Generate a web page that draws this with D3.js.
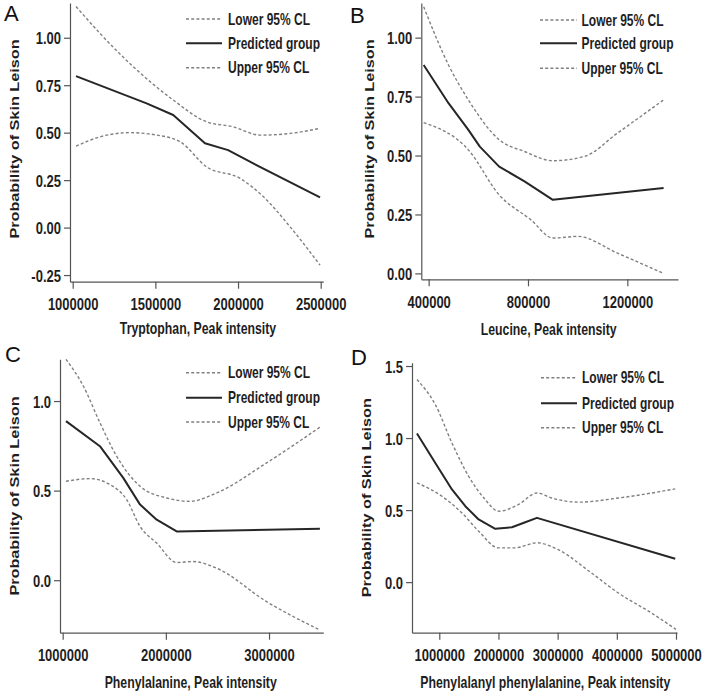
<!DOCTYPE html>
<html>
<head>
<meta charset="utf-8">
<script src="https://cdn.jsdelivr.net/npm/d3@7/dist/d3.min.js"></script>
<style>
  html, body { margin: 0; padding: 0; background: #ffffff; }
  svg { display: block; }
</style>
</head>
<body>
<div id="chart"></div>
<script>
// ---------- DATA ----------
const legendLabels = ["Lower 95% CL", "Predicted group", "Upper 95% CL"];
const yAxisTitle = "Probability of Skin Leison";

// Panel A – Tryptophan
const aXTicks = [1000000, 1500000, 2000000, 2500000];
const aYTicks = [-0.25, 0, 0.25, 0.5, 0.75, 1.0];
const aPredX = [1020000, 1447000, 1608000, 1800000, 1940000, 2072000, 2496000];
const aPredY = [0.798, 0.654, 0.593, 0.444, 0.408, 0.347, 0.159];
const aUpperX = [1020000, 1165000, 1367000, 1608000, 1810000, 1970000, 2133000, 2315000, 2496000];
const aUpperY = [1.165, 1.023, 0.847, 0.672, 0.557, 0.531, 0.487, 0.496, 0.523];
const aLowerX = [1020000, 1165000, 1347000, 1510000, 1650000, 1810000, 2013000, 2154000, 2315000, 2496000];
const aLowerY = [0.429, 0.478, 0.500, 0.487, 0.452, 0.320, 0.259, 0.162, 0.004, -0.198];

// Panel B – Leucine
const bXTicks = [400000, 800000, 1200000];
const bYTicks = [0, 0.25, 0.5, 0.75, 1.0];
const bPredX = [380000, 480000, 560000, 606000, 684000, 786000, 900000, 1346000];
const bPredY = [0.884, 0.722, 0.609, 0.538, 0.453, 0.390, 0.312, 0.362];
const bUpperX = [380000, 480000, 560000, 684000, 786000, 900000, 1027000, 1160000, 1346000];
const bUpperY = [1.131, 0.884, 0.736, 0.567, 0.517, 0.478, 0.496, 0.595, 0.736];
const bLowerX = [380000, 560000, 684000, 812000, 900000, 1000000, 1160000, 1346000];
const bLowerY = [0.640, 0.524, 0.333, 0.227, 0.150, 0.157, 0.086, 0.000];

// Panel C – Phenylalanine
const cXTicks = [1000000, 2000000, 3000000];
const cYTicks = [0, 0.5, 1.0];
const cPredX = [1032000, 1361000, 1587000, 1750000, 1911000, 2105000, 3493000];
const cPredY = [0.888, 0.748, 0.571, 0.422, 0.338, 0.272, 0.287];
const cUpperX = [1032000, 1200000, 1361000, 1523000, 1750000, 2008000, 2234000, 2492000, 2977000, 3493000];
const cUpperY = [1.233, 1.084, 0.879, 0.692, 0.524, 0.459, 0.440, 0.487, 0.655, 0.854];
const cLowerX = [1032000, 1265000, 1458000, 1620000, 1750000, 1911000, 2105000, 2266000, 2492000, 2977000, 3493000];
const cLowerY = [0.552, 0.567, 0.534, 0.450, 0.300, 0.207, 0.099, 0.104, 0.067, -0.120, -0.278];

// Panel D – Phenylalanyl phenylalanine
const dXTicks = [1000000, 2000000, 3000000, 4000000, 5000000];
const dYTicks = [0, 0.5, 1.0, 1.5];
const dPredX = [623000, 933000, 1214000, 1440000, 1665000, 1946000, 2228000, 2453000, 2650000, 4987000];
const dPredY = [1.031, 0.827, 0.643, 0.527, 0.435, 0.370, 0.381, 0.416, 0.446, 0.162];
const dUpperX = [623000, 933000, 1214000, 1496000, 1777000, 2000000, 2340000, 2650000, 2900000, 3350000, 4030000, 4987000];
const dUpperY = [1.406, 1.232, 0.966, 0.735, 0.573, 0.492, 0.539, 0.619, 0.584, 0.555, 0.584, 0.647];
const dLowerX = [623000, 1046000, 1383000, 1665000, 2000000, 2280000, 2650000, 3000000, 3570000, 4020000, 4580000, 5000000];
const dLowerY = [0.689, 0.596, 0.480, 0.354, 0.238, 0.238, 0.273, 0.227, 0.064, -0.074, -0.213, -0.328];

// ---------- LAYOUT ----------
const W = 704, H = 693;
const FONT = "'Liberation Sans', Arial, Helvetica, sans-serif";
const SY = 1.32; // vertical stretch of the original lettering
const TEXT_COLOR = "#1e1e1e";
const AXIS_COLOR = "#555555";

const panels = [
  { letter: "A", ox: 0, oy: 0, letterPos: [4, 21],
    xDomain: [983700, 2515700], xRange: [70, 323.3],
    yDomain: [-0.285, 1.183], yRange: [281.7, 3],
    xTicks: aXTicks, yTicks: aYTicks, yDec: 2,
    xTitle: "Tryptophan, Peak intensity", xTitlePos: [198, 328], yTitlePos: [15, 139],
    legend: { x0: 186, x1: 222, tx: 228, rows: [19, 43.3, 67.7] },
    pred: [aPredX, aPredY], upper: [aUpperX, aUpperY], lower: [aLowerX, aLowerY] },
  { letter: "B", ox: 352, oy: 0, letterPos: [-2, 23],
    xDomain: [370400, 1404000], xRange: [69.3, 326],
    yDomain: [-0.025, 1.147], yRange: [279.3, 3],
    xTicks: bXTicks, yTicks: bYTicks, yDec: 2,
    xTitle: "Leucine, Peak intensity", xTitlePos: [196.7, 329.3], yTitlePos: [18, 139],
    legend: { x0: 188, x1: 225, tx: 229.5, rows: [20, 43.3, 68.3] },
    pred: [bPredX, bPredY], upper: [bUpperX, bUpperY], lower: [bLowerX, bLowerY] },
  { letter: "C", ox: 0, oy: 346, letterPos: [5, 15.7],
    xDomain: [974000, 3526000], xRange: [60, 323.3],
    yDomain: [-0.293, 1.233], yRange: [286.7, 13.3],
    xTicks: cXTicks, yTicks: cYTicks, yDec: 1,
    xTitle: "Phenylalanine, Peak intensity", xTitlePos: [190.7, 336.7], yTitlePos: [15, 150],
    legend: { x0: 186, x1: 222, tx: 228, rows: [26.7, 51.7, 76] },
    pred: [cPredX, cPredY], upper: [cUpperX, cUpperY], lower: [cLowerX, cLowerY] },
  { letter: "D", ox: 352, oy: 346, letterPos: [-1, 19],
    xDomain: [539000, 5017000], xRange: [60, 325],
    yDomain: [-0.351, 1.523], yRange: [286.7, 16.7],
    xTicks: dXTicks, yTicks: dYTicks, yDec: 1,
    xTitle: "Phenylalanyl phenylalanine, Peak intensity", xTitlePos: [193.3, 336.7], yTitlePos: [15, 151.7],
    legend: { x0: 189, x1: 225, tx: 230, rows: [31.7, 57.3, 81.7] },
    pred: [dPredX, dPredY], upper: [dUpperX, dUpperY], lower: [dLowerX, dLowerY] }
];

const svg = d3.select("#chart").append("svg")
  .attr("width", W).attr("height", H)
  .attr("viewBox", `0 0 ${W} ${H}`);
svg.append("rect").attr("width", W).attr("height", H).attr("fill", "#ffffff");

function stretchedText(g, x, y, str, anchor, size, rotate) {
  const t = g.append("text")
    .attr("transform", rotate
      ? `translate(${x},${y}) rotate(-90) scale(${SY},1)`
      : `translate(${x},${y}) scale(1,${SY})`)
    .attr("text-anchor", anchor)
    .attr("dominant-baseline", "central")
    .attr("font-family", FONT)
    .attr("font-weight", "bold")
    .attr("font-size", size)
    .attr("fill", TEXT_COLOR)
    .text(str);
  return t;
}

const dashStyle = { stroke: "#808080", width: 1.4, dash: "3,2.2" };
const solidStyle = { stroke: "#262626", width: 2 };

panels.forEach(p => {
  const g = svg.append("g").attr("transform", `translate(${p.ox},${p.oy})`);
  const x = d3.scaleLinear().domain(p.xDomain).range(p.xRange);
  const y = d3.scaleLinear().domain(p.yDomain).range(p.yRange);
  const xAxisY = p.yRange[0];
  const yAxisX = p.xRange[0];

  // panel letter
  g.append("text")
    .attr("x", p.letterPos[0]).attr("y", p.letterPos[1])
    .attr("font-family", FONT).attr("font-size", 22)
    .attr("fill", "#111").text(p.letter);

  // Y axis
  const yAxis = g.append("g").attr("transform", `translate(${yAxisX},0)`)
    .call(d3.axisLeft(y).tickValues(p.yTicks).tickSize(6).tickSizeOuter(0)
      .tickFormat(d => d.toFixed(p.yDec)));
  yAxis.select(".domain").attr("stroke", AXIS_COLOR).attr("stroke-width", 1.2);
  yAxis.selectAll(".tick line").attr("stroke", AXIS_COLOR).attr("stroke-width", 1.2);
  yAxis.selectAll(".tick text").remove();
  yAxis.selectAll(".tick").each(function(d) {
    stretchedText(d3.select(this), -9, 0, d.toFixed(p.yDec), "end", 13);
  });

  // X axis
  const xAxis = g.append("g").attr("transform", `translate(0,${xAxisY})`)
    .call(d3.axisBottom(x).tickValues(p.xTicks).tickSize(7).tickSizeOuter(0)
      .tickFormat(d3.format("d")));
  xAxis.select(".domain").attr("stroke", AXIS_COLOR).attr("stroke-width", 1.2);
  xAxis.selectAll(".tick line").attr("stroke", AXIS_COLOR).attr("stroke-width", 1.2);
  xAxis.selectAll(".tick text").remove();
  xAxis.selectAll(".tick").each(function(d) {
    stretchedText(d3.select(this), 0, 22.5, d3.format("d")(d), "middle", 13);
  });

  // axis titles
  stretchedText(g, p.xTitlePos[0], p.xTitlePos[1], p.xTitle, "middle", 12.3);
  stretchedText(g, p.yTitlePos[0], p.yTitlePos[1], yAxisTitle, "middle", 12.3, true);

  // curves
  const mk = (xs, ys) => xs.map((v, i) => [v, ys[i]]);
  const smooth = d3.line().x(d => x(d[0])).y(d => y(d[1])).curve(d3.curveMonotoneX);
  const straight = d3.line().x(d => x(d[0])).y(d => y(d[1])).curve(d3.curveLinear);

  [p.upper, p.lower].forEach(s => {
    g.append("path").datum(mk(s[0], s[1]))
      .attr("d", smooth).attr("fill", "none")
      .attr("stroke", dashStyle.stroke).attr("stroke-width", dashStyle.width)
      .attr("stroke-dasharray", dashStyle.dash);
  });
  g.append("path").datum(mk(p.pred[0], p.pred[1]))
    .attr("d", straight).attr("fill", "none")
    .attr("stroke", solidStyle.stroke).attr("stroke-width", solidStyle.width)
    .attr("stroke-linejoin", "round");

  // legend
  const L = p.legend;
  legendLabels.forEach((lab, i) => {
    const ry = L.rows[i];
    const ln = g.append("line").attr("x1", L.x0).attr("x2", L.x1).attr("y1", ry).attr("y2", ry)
      .attr("fill", "none");
    if (i === 1) {
      ln.attr("stroke", solidStyle.stroke).attr("stroke-width", solidStyle.width);
    } else {
      ln.attr("stroke", dashStyle.stroke).attr("stroke-width", dashStyle.width)
        .attr("stroke-dasharray", dashStyle.dash);
    }
    stretchedText(g, L.tx, ry, lab, "start", 12);
  });
});
</script>
</body>
</html>
